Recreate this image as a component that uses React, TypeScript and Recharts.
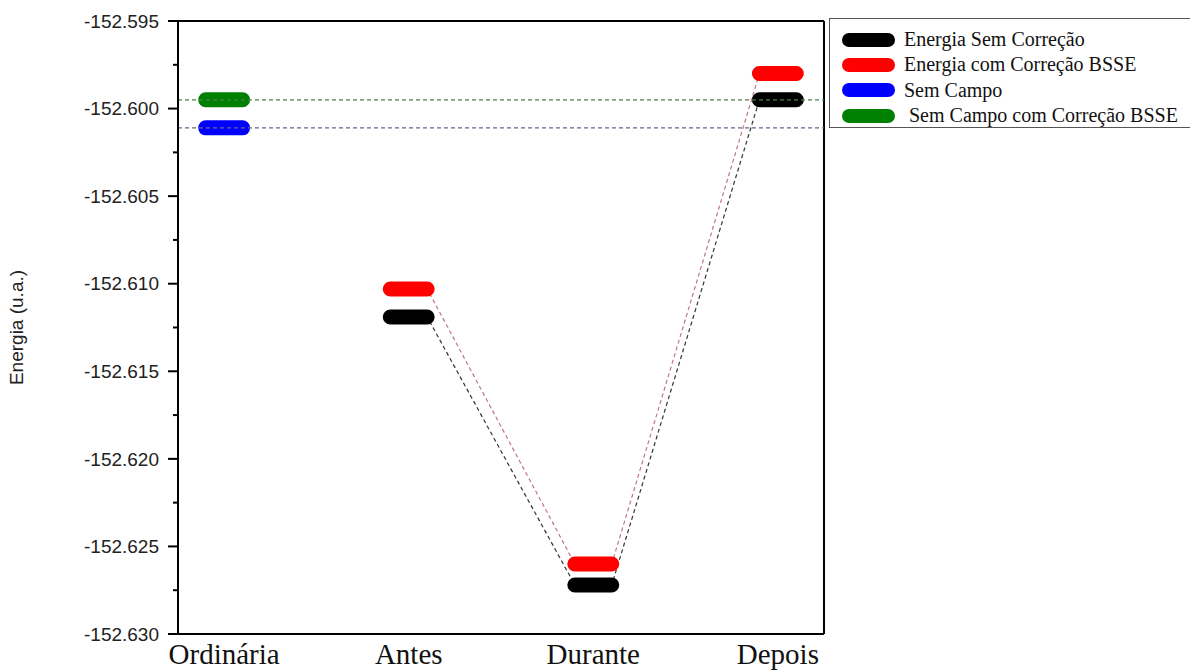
import React from 'react';
import {
  LineChart,
  Line,
  XAxis,
  YAxis,
  ReferenceLine,
} from 'recharts';

const categories = ['Ordinária', 'Antes', 'Durante', 'Depois'];

// energy levels per stage (u.a.), null where the series has no level
const semCorrecao = [null, -152.6119, -152.6272, -152.5995];
const comCorrecaoBSSE = [null, -152.6103, -152.6260, -152.5980];
const semCampo = [-152.6011, null, null, null];
const semCampoBSSE = [-152.5995, null, null, null];

const yMajorTicks = [-152.63, -152.625, -152.62, -152.615, -152.61, -152.605, -152.6, -152.595];
const yMinorTicks = [-152.6275, -152.6225, -152.6175, -152.6125, -152.6075, -152.6025, -152.5975];

const legendItems = [
  { name: 'Energia Sem Correção', color: '#000000' },
  { name: 'Energia com Correção BSSE', color: '#ff0000' },
  { name: 'Sem Campo', color: '#0000ff' },
  { name: '\u00a0Sem Campo com Correção BSSE', color: '#008000' },
];

const Y_MIN = -152.63;
const Y_MAX = -152.595;
const X_MIN = 0.75;
const X_MAX = 4.25;
const HALF = 0.1; // half length of a level segment (x units)

// level segments: two points per level with a null break between them
const levelPoints = (values: (number | null)[]) => {
  const pts: { x: number; y: number | null }[] = [];
  values.forEach((v, i) => {
    if (v === null) return;
    const c = i + 1;
    pts.push({ x: c - HALF, y: v });
    pts.push({ x: c + HALF, y: v });
    pts.push({ x: c + 0.5, y: null });
  });
  return pts;
};

// connector path through the level ends
const connectorPoints = (values: (number | null)[]) => {
  const pts: { x: number; y: number }[] = [];
  values.forEach((v, i) => {
    if (v === null) return;
    const c = i + 1;
    pts.push({ x: c - HALF, y: v });
    pts.push({ x: c + HALF, y: v });
  });
  return pts;
};

const allYTicks = [...yMajorTicks, ...yMinorTicks].sort((a, b) => a - b);

const isMajor = (v: number) => yMajorTicks.some((t) => Math.abs(t - v) < 1e-7);

const YTick = (props: any) => {
  const { x, y, payload } = props;
  const major = isMajor(payload.value);
  return (
    <g>
      <line x1={x - (major ? 10 : 5)} x2={x} y1={y} y2={y} stroke="#000" strokeWidth={2} />
      {major && (
        <text
          x={x - 19}
          y={y}
          dy="0.35em"
          textAnchor="end"
          fontSize={19}
          fontFamily="'Liberation Sans', Arial, sans-serif"
          fill="#222"
        >
          {payload.value.toFixed(3)}
        </text>
      )}
    </g>
  );
};

const LegendBox = () => (
  <div
    style={{
      position: 'absolute',
      left: 829,
      top: 18,
      border: '1px solid #555',
      borderRight: 'none',
      background: '#fff',
      width: 361,
      height: 110,
      boxSizing: 'border-box',
      paddingTop: 8,
      fontFamily: "'Liberation Serif', 'Times New Roman', serif",
      fontSize: 20,
      color: '#111',
    }}
  >
    {legendItems.map((item) => (
      <div key={item.name} style={{ display: 'flex', alignItems: 'center', height: 25.3 }}>
        <span
          style={{
            display: 'inline-block',
            width: 53,
            height: 14,
            borderRadius: 7,
            background: item.color,
            marginLeft: 12,
            marginRight: 9,
            flexShrink: 0,
          }}
        />
        <span style={{ whiteSpace: 'pre' }}>{item.name}</span>
      </div>
    ))}
  </div>
);

export default function App() {
  const levelStyle = {
    strokeWidth: 15,
    strokeLinecap: 'round' as const,
    dot: false,
    activeDot: false,
    isAnimationActive: false,
    connectNulls: false,
  };
  const connectorStyle = {
    strokeWidth: 1.2,
    strokeDasharray: '4 3',
    dot: false,
    activeDot: false,
    isAnimationActive: false,
  };

  return (
    <div style={{ position: 'fixed', left: 0, top: 0, width: 1190, height: 670, background: '#fff' }}>
      <LineChart width={1190} height={670} margin={{ top: 21, right: 366, bottom: 0, left: 0 }}>
        <XAxis
          type="number"
          dataKey="x"
          domain={[X_MIN, X_MAX]}
          allowDataOverflow
          ticks={[1, 2, 3, 4]}
          tickFormatter={(v: number) => categories[v - 1] ?? ''}
          tickLine={false}
          tickSize={0}
          tickMargin={9}
          height={36}
          axisLine={{ stroke: '#000', strokeWidth: 2 }}
          tick={{ fontSize: 29, fill: '#111', fontFamily: "'Liberation Serif', 'Times New Roman', serif" }}
          interval={0}
        />
        <YAxis
          type="number"
          domain={[Y_MIN, Y_MAX]}
          allowDataOverflow
          ticks={allYTicks}
          interval={0}
          width={178}
          tickLine={false}
          tickSize={0}
          tickMargin={0}
          axisLine={{ stroke: '#000', strokeWidth: 2 }}
          tick={<YTick />}
          label={{
            value: 'Energia (u.a.)',
            angle: -90,
            position: 'insideLeft',
            offset: 16,
            style: { textAnchor: 'middle', fontSize: 19, fill: '#222', fontFamily: "'Liberation Sans', Arial, sans-serif" },
          }}
        />

        {/* frame */}
        <ReferenceLine y={Y_MAX} stroke="#000" strokeWidth={2} />
        <ReferenceLine x={X_MAX} stroke="#000" strokeWidth={2} />

        {/* connectors between levels */}
        <Line data={connectorPoints(semCorrecao)} dataKey="y" stroke="#333" {...connectorStyle} />
        <Line data={connectorPoints(comCorrecaoBSSE)} dataKey="y" stroke="#c07878" {...connectorStyle} />

        {/* energy levels */}
        <Line data={levelPoints(semCorrecao)} dataKey="y" stroke="#000000" {...levelStyle} />
        <Line data={levelPoints(comCorrecaoBSSE)} dataKey="y" stroke="#ff0000" {...levelStyle} />
        <Line data={levelPoints(semCampo)} dataKey="y" stroke="#0000ff" {...levelStyle} />
        <Line data={levelPoints(semCampoBSSE)} dataKey="y" stroke="#008000" {...levelStyle} />

        {/* reference levels without field */}
        <ReferenceLine y={semCampoBSSE[0] as number} stroke="#4f7f4f" strokeDasharray="4 3" strokeWidth={1.2} />
        <ReferenceLine y={semCampo[0] as number} stroke="#66668f" strokeDasharray="4 3" strokeWidth={1.2} />
      </LineChart>
      <LegendBox />
    </div>
  );
}
